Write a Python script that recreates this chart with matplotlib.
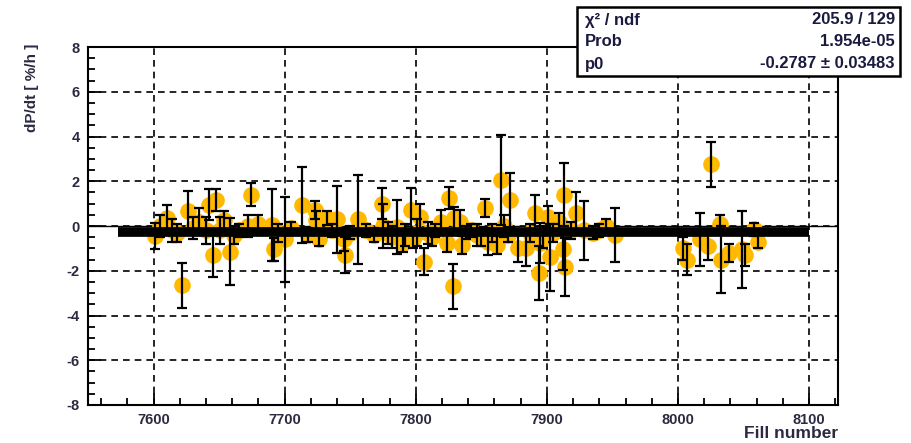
import matplotlib
matplotlib.use("Agg")
import matplotlib.pyplot as plt
from matplotlib.ticker import MultipleLocator

# ---- data ----
fill = [7601, 7605, 7610, 7614, 7618, 7622, 7626, 7630, 7635, 7640, 7642, 7645, 7648, 7651,
        7654, 7658, 7661, 7665, 7672, 7674, 7680,
        7690, 7692, 7695, 7700, 7705, 7713, 7718, 7723, 7724, 7726, 7732, 7736, 7740, 7745,
        7746, 7750, 7756, 7762, 7768, 7774, 7775, 7779, 7782,
        7786, 7790, 7792, 7796, 7798, 7801, 7803, 7806, 7809, 7812, 7815, 7819, 7824, 7825,
        7828, 7829, 7834, 7835, 7838, 7842, 7847, 7850, 7853, 7855, 7858, 7862, 7865, 7867,
        7870, 7872, 7878,
        7884, 7887, 7891, 7894, 7895, 7897, 7901, 7902, 7905, 7909, 7912, 7913, 7914, 7918,
        7922, 7928, 7935, 7940, 7945, 7952,
        8004, 8007, 8017, 8023, 8025, 8032, 8033, 8039, 8049, 8051, 8058, 8061]
dpdt = [-0.45, 0.0, 0.35, -0.2, -0.3, -2.65, 0.65, -0.1, 0.2, -0.2, 0.95, -1.3, 1.15, -0.2,
        0.25, -1.15, -0.4, -0.2, 0.0, 1.4, 0.1,
        0.05, -1.05, -0.3, -0.6, -0.1, 0.95, -0.4, 0.7, 0.25, -0.6, 0.35, -0.2, 0.3, -0.6,
        -1.3, -0.3, 0.3, -0.2, -0.4, 1.0, 0.0, -0.3, -0.5,
        -0.05, -0.75, -0.4, 0.7, -0.6, -0.3, 0.4, -1.6, -0.3, -0.5, -0.2, 0.2, -0.75, 1.25,
        -2.7, 0.35, 0.2, -0.85, -0.3, -0.2, -0.4, -0.5, 0.8, -0.7, -0.3, -0.85, 2.05, 0.0,
        -0.4, 1.15, -1.0,
        -1.0, -0.3, 0.6, -2.1, -0.75, -0.5, 0.4, -1.4, -0.3, 0.2, -1.05, 1.4, -1.85, -0.2,
        0.6, -0.2, -0.3, -0.2, 0.0, -0.4,
        -1.0, -1.5, -0.6, -0.9, 2.75, 0.1, -1.5, -1.2, -1.05, -1.3, -0.15, -0.7]
err = [0.6, 0.5, 0.6, 0.5, 0.4, 1.0, 0.9, 0.5, 0.6, 0.6, 0.7, 1.0, 0.5, 0.6,
       0.4, 1.5, 0.4, 0.3, 0.5, 0.5, 0.4,
       1.6, 0.5, 0.4, 1.9, 0.3, 1.7, 0.3, 0.4, 0.4, 0.3, 0.3, 0.3, 1.5, 0.5,
       0.8, 0.3, 2.0, 0.3, 0.3, 0.7, 1.0, 0.5, 0.5,
       1.2, 0.4, 0.5, 1.0, 0.4, 0.6, 0.6, 0.6, 0.5, 0.4, 0.3, 0.5, 0.4, 0.5,
       1.0, 0.5, 0.5, 0.4, 0.3, 0.3, 0.5, 0.4, 0.4, 0.6, 0.4, 0.4, 2.0, 0.5,
       0.3, 1.2, 0.6,
       0.8, 0.4, 0.8, 1.2, 0.9, 0.5, 0.5, 1.5, 0.4, 0.4, 0.9, 1.4, 1.3, 0.4,
       0.9, 1.3, 0.3, 0.3, 0.3, 1.2,
       0.5, 0.7, 1.2, 0.6, 1.0, 0.4, 1.5, 0.4, 1.7, 0.5, 0.3, 0.3]

fit_p0 = -0.2787
fit_range = [7573, 8100]

stats_labels = ["χ² / ndf", "Prob", "p0"]
stats_values = ["205.9 / 129", "1.954e-05", "-0.2787 ± 0.03483"]

x_label = "Fill number"
y_label = "dP/dt [ %/h ]"

# ---- figure ----
plt.rcParams['font.family'] = ['Liberation Sans', 'DejaVu Sans']
plt.rcParams['axes.unicode_minus'] = False

fig = plt.figure(figsize=(9.12, 4.43), dpi=100)
ax = fig.add_axes([88/912, 1-405/443, (838-88)/912, (405-47)/443])

ax.set_xlim(7550, 8122)
ax.set_ylim(-8, 8)

ax.grid(True, which='major', color='black', linestyle=(0, (4, 3)), linewidth=1.2)
ax.set_axisbelow(True)

ax.axhline(0, color='black', lw=1.0, zorder=2)

ax.plot(fill, dpdt, 'o', color='#FFB900', markersize=12, markeredgewidth=0, zorder=3)
ax.errorbar(fill, dpdt, yerr=err, fmt='none', ecolor='black', elinewidth=1.6,
            capsize=3.6, capthick=1.6, zorder=4)
ax.plot(fit_range, [fit_p0, fit_p0], color='black', lw=7, solid_capstyle='butt', zorder=5)

ax.xaxis.set_major_locator(MultipleLocator(100))
ax.xaxis.set_minor_locator(MultipleLocator(20))
ax.yaxis.set_major_locator(MultipleLocator(2))
ax.yaxis.set_minor_locator(MultipleLocator(0.5))
ax.tick_params(which='both', direction='in', width=1.3, colors='black', top=False, right=False)
ax.tick_params(which='major', length=9, labelsize=10.5, pad=6)
ax.tick_params(which='minor', length=5)
for lab in ax.get_xticklabels() + ax.get_yticklabels():
    lab.set_fontweight('bold')
    lab.set_color('#2a2a40')
for s in ax.spines.values():
    s.set_linewidth(1.5)

fig.text(838/912, 1-433/443, x_label, ha='right', va='center', fontsize=12.5,
         fontweight='bold', color='#2a2a40')
fig.text(32/912, 1-44/443, y_label, ha='center', va='top', rotation=90, fontsize=11,
         fontweight='bold', color='#2a2a40')

# stats box
bx0, by0, bx1, by1 = 577, 7, 900, 76
box = plt.Rectangle((bx0/912, 1-by1/443), (bx1-bx0)/912, (by1-by0)/443,
                    transform=fig.transFigure, facecolor='white', edgecolor='black',
                    linewidth=1.8, zorder=10)
fig.patches.append(box)
rows_y = [20, 42, 64]
for lab, val, ry in zip(stats_labels, stats_values, rows_y):
    fig.text(585/912, 1-ry/443, lab, ha='left', va='center', fontsize=12,
             fontweight='bold', color='#1a1a40', zorder=11)
    fig.text(895/912, 1-ry/443, val, ha='right', va='center', fontsize=12,
             fontweight='bold', color='#1a1a40', zorder=11)

fig.savefig('out.png', dpi=100)
